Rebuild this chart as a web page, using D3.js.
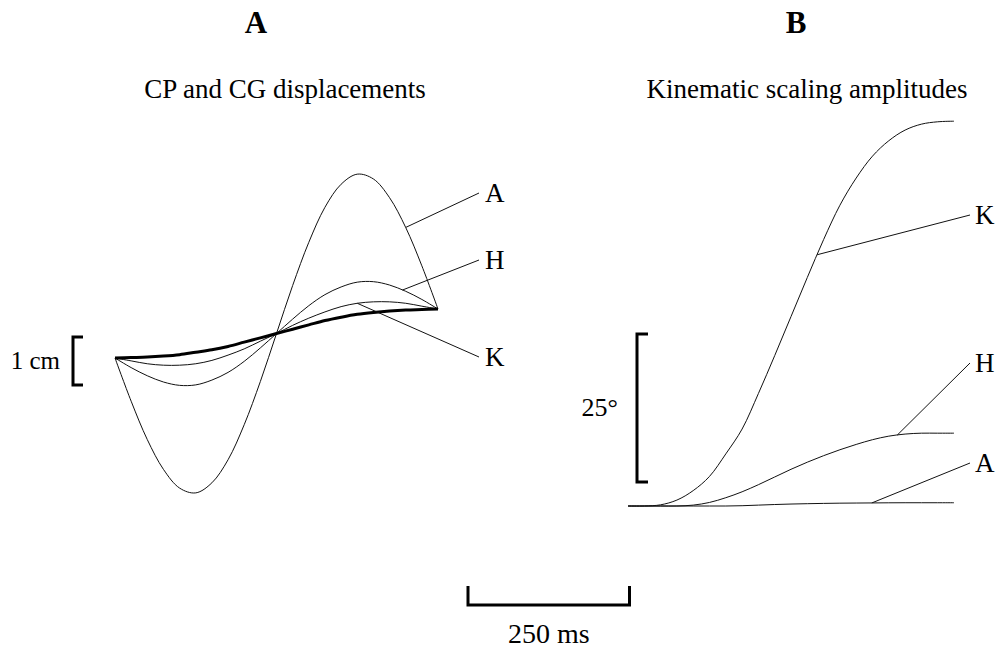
<!DOCTYPE html>
<html>
<head>
<meta charset="utf-8">
<script src="https://cdnjs.cloudflare.com/ajax/libs/d3/7.8.5/d3.min.js"></script>
<style>
  body { margin: 0; background: #fff; }
  svg text { font-family: "Liberation Serif", "Times New Roman", serif; fill: #000; }
</style>
</head>
<body>
<div id="chart"></div>
<script>
// time samples (ms)
var time = [0, 25, 50, 75, 100, 125, 150, 175, 200, 225, 250, 275, 300, 325, 350, 375, 400, 425, 450, 475, 500];

// panel A : CP displacement (cm) for each strategy, and CG (bold)
var cpA = [0, -0.90, -1.70, -2.32, -2.71, -2.81, -2.60, -2.12, -1.39, -0.49, 0.51, 1.51, 2.41, 3.14, 3.62, 3.83, 3.73, 3.34, 2.72, 1.92, 1.02];
var cpH = [0, -0.20, -0.37, -0.50, -0.57, -0.56, -0.46, -0.30, -0.07, 0.21, 0.51, 0.81, 1.09, 1.32, 1.48, 1.58, 1.59, 1.52, 1.39, 1.22, 1.02];
var cpK = [0, -0.06, -0.12, -0.15, -0.15, -0.12, -0.05, 0.06, 0.19, 0.35, 0.51, 0.68, 0.83, 0.96, 1.07, 1.14, 1.17, 1.17, 1.14, 1.08, 1.02];
var cg  = [0, 0.01, 0.02, 0.04, 0.07, 0.12, 0.17, 0.24, 0.33, 0.42, 0.51, 0.60, 0.69, 0.78, 0.85, 0.91, 0.95, 0.98, 1.00, 1.01, 1.02];

// panel B : kinematic scaling amplitudes (deg)
var ampK = [0, 0, 0.2, 1.0, 2.6, 5.0, 8.8, 13.0, 19.0, 25.4, 32.0, 38.6, 45.0, 50.8, 55.4, 59.1, 61.7, 63.5, 64.5, 64.9, 65.0];
var ampH = [0, 0, 0, 0, 0.15, 0.6, 1.4, 2.4, 3.6, 4.9, 6.2, 7.4, 8.5, 9.5, 10.4, 11.2, 11.8, 12.15, 12.3, 12.3, 12.3];
var ampA = [0, 0, 0, 0, 0, 0, 0, 0.05, 0.15, 0.25, 0.33, 0.39, 0.44, 0.48, 0.5, 0.52, 0.54, 0.55, 0.55, 0.55, 0.55];

// where the label leaders touch the curves (ms)
var leadersA = [{name: "A", vals: cpA, t: 450}, {name: "H", vals: cpH, t: 445}, {name: "K", vals: cpK, t: 375}];
var leadersB = [{name: "K", vals: ampK, t: 290}, {name: "H", vals: ampH, t: 413}, {name: "A", vals: ampA, t: 374}];

var width = 999, height = 648;

var svg = d3.select("#chart").append("svg")
    .attr("width", width)
    .attr("height", height);

// scales
var xA = d3.scaleLinear().domain([0, 500]).range([115, 438]);
var yA = d3.scaleLinear().domain([0, 1]).range([358, 310]);
var xB = d3.scaleLinear().domain([0, 500]).range([628, 954]);
var yB = d3.scaleLinear().domain([0, 25]).range([506, 358]);

function valueAt(vals, t) {
  var i = d3.bisectRight(time, t) - 1;
  if (i >= time.length - 1) return vals[vals.length - 1];
  var f = (t - time[i]) / (time[i + 1] - time[i]);
  return vals[i] + f * (vals[i + 1] - vals[i]);
}

function lineFor(x, y) {
  return d3.line()
    .x(function(d, i) { return x(time[i]); })
    .y(function(d) { return y(d); })
    .curve(d3.curveCatmullRom);
}

// ---- panel A
var gA = svg.append("g");
var lineA = lineFor(xA, yA);

[cpA, cpH, cpK].forEach(function(s) {
  gA.append("path").datum(s)
    .attr("d", lineA)
    .attr("fill", "none")
    .attr("stroke", "#111")
    .attr("stroke-width", 1);
});
gA.append("path").datum(cg)
  .attr("d", lineA)
  .attr("fill", "none")
  .attr("stroke", "#000")
  .attr("stroke-width", 3);

var labPosA = {A: 193, H: 260, K: 357};
leadersA.forEach(function(l) {
  gA.append("line")
    .attr("x1", xA(l.t)).attr("y1", yA(valueAt(l.vals, l.t)))
    .attr("x2", 479).attr("y2", labPosA[l.name])
    .attr("stroke", "#111").attr("stroke-width", 1);
  gA.append("text")
    .attr("x", 485).attr("y", labPosA[l.name] + 9)
    .attr("font-size", 27)
    .text(l.name);
});

// 1 cm bracket
var cmTop = yA(0.44), cmBot = yA(-0.56);
gA.append("path")
  .attr("d", "M83," + cmTop + "H73V" + cmBot + "H83")
  .attr("fill", "none").attr("stroke", "#000").attr("stroke-width", 3);
gA.append("text")
  .attr("x", 60).attr("y", (cmTop + cmBot) / 2 + 8)
  .attr("text-anchor", "end")
  .attr("font-size", 25)
  .text("1 cm");

// ---- panel B
var gB = svg.append("g");
var lineB = lineFor(xB, yB);

[ampK, ampH, ampA].forEach(function(s) {
  gB.append("path").datum(s)
    .attr("d", lineB)
    .attr("fill", "none")
    .attr("stroke", "#111")
    .attr("stroke-width", 1);
});

var labPosB = {K: 215, H: 363, A: 463};
leadersB.forEach(function(l) {
  gB.append("line")
    .attr("x1", xB(l.t)).attr("y1", yB(valueAt(l.vals, l.t)))
    .attr("x2", 970).attr("y2", labPosB[l.name])
    .attr("stroke", "#111").attr("stroke-width", 1);
  gB.append("text")
    .attr("x", 975).attr("y", labPosB[l.name] + 9)
    .attr("font-size", 27)
    .text(l.name);
});

// 25 deg bracket
var dTop = yB(29.05), dBot = yB(4.05);
gB.append("path")
  .attr("d", "M648," + dTop + "H637V" + dBot + "H648")
  .attr("fill", "none").attr("stroke", "#000").attr("stroke-width", 3);
gB.append("text")
  .attr("x", 618).attr("y", 416)
  .attr("text-anchor", "end")
  .attr("font-size", 26)
  .text("25°");

// 250 ms bar
var msL = 468, msR = msL + (xA(250) - xA(0));
svg.append("path")
  .attr("d", "M" + msL + ",586V605H" + msR + "V586")
  .attr("fill", "none").attr("stroke", "#000").attr("stroke-width", 3);
svg.append("text")
  .attr("x", (msL + msR) / 2).attr("y", 643)
  .attr("text-anchor", "middle")
  .attr("font-size", 28)
  .text("250 ms");

// titles
svg.append("text").attr("x", 256).attr("y", 33)
  .attr("text-anchor", "middle").attr("font-size", 31).attr("font-weight", "bold")
  .text("A");
svg.append("text").attr("x", 796).attr("y", 33)
  .attr("text-anchor", "middle").attr("font-size", 31).attr("font-weight", "bold")
  .text("B");
svg.append("text").attr("x", 285).attr("y", 98)
  .attr("text-anchor", "middle").attr("font-size", 27)
  .text("CP and CG displacements");
svg.append("text").attr("x", 807).attr("y", 98)
  .attr("text-anchor", "middle").attr("font-size", 27)
  .text("Kinematic scaling amplitudes");
</script>
</body>
</html>
